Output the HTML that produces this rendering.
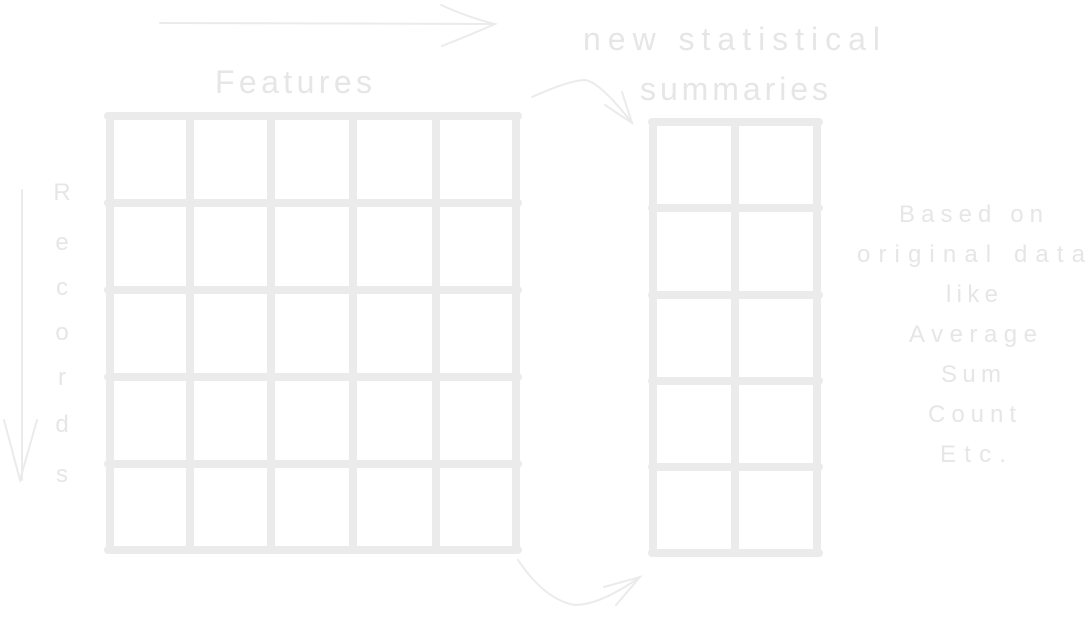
<!DOCTYPE html>
<html><head><style>
html,body{margin:0;padding:0;background:#fff;}
svg{display:block}
text{font-family:"Liberation Sans",sans-serif;fill:#e6e6e6;}
</style></head><body>
<svg width="1092" height="630" viewBox="0 0 1092 630">
<g stroke="#ebebeb" stroke-width="8" stroke-linecap="round" fill="none">
<line x1="108" y1="116" x2="518" y2="116"/>
<line x1="108" y1="203" x2="518" y2="203"/>
<line x1="108" y1="290" x2="518" y2="290"/>
<line x1="108" y1="377" x2="518" y2="377"/>
<line x1="108" y1="464" x2="518" y2="464"/>
<line x1="108" y1="550" x2="518" y2="550"/>
<line x1="110" y1="116" x2="110" y2="550"/>
<line x1="190" y1="116" x2="190" y2="550"/>
<line x1="271" y1="116" x2="271" y2="550"/>
<line x1="353" y1="116" x2="353" y2="550"/>
<line x1="436" y1="116" x2="436" y2="550"/>
<line x1="516" y1="116" x2="516" y2="550"/>
<line x1="652" y1="122" x2="819" y2="122"/>
<line x1="652" y1="208" x2="819" y2="208"/>
<line x1="652" y1="295" x2="819" y2="295"/>
<line x1="652" y1="381" x2="819" y2="381"/>
<line x1="652" y1="467" x2="819" y2="467"/>
<line x1="652" y1="553" x2="819" y2="553"/>
<line x1="653" y1="122" x2="653" y2="553"/>
<line x1="735" y1="122" x2="735" y2="553"/>
<line x1="817" y1="122" x2="817" y2="553"/>
</g>
<g stroke="#ebebeb" stroke-width="2" fill="none" stroke-linecap="round">
<line x1="160" y1="23" x2="495" y2="24"/>
<path d="M441 5 Q470 18 495 24 Q470 35 442 46"/>
<line x1="22" y1="190" x2="22" y2="480"/>
<path d="M4 420 L20 480 L37 420"/>
<path d="M532 97 Q570 80 585 80 Q600 82 632 123"/>
<path d="M605 105 L632 123 L622 92"/>
<path d="M518 560 Q545 600 575 605 Q600 605 640 577"/>
<path d="M604 587 L640 577 L616 605"/>
</g>
<text x="215" y="93" font-size="32" textLength="157" lengthAdjust="spacing">Features</text>
<text x="583" y="50" font-size="32" textLength="297" lengthAdjust="spacing">new statistical</text>
<text x="640" y="100" font-size="32" textLength="188" lengthAdjust="spacing">summaries</text>
<g font-size="24" text-anchor="middle">
<text x="62" y="200">R</text>
<text x="62" y="250">e</text>
<text x="62" y="295">c</text>
<text x="62" y="340">o</text>
<text x="62" y="385">r</text>
<text x="62" y="432">d</text>
<text x="62" y="482">s</text>
</g>
<g font-size="24">
<text x="899" y="222" textLength="144" lengthAdjust="spacing">Based on</text>
<text x="857" y="262" textLength="228" lengthAdjust="spacing">original data</text>
<text x="946" y="302" textLength="52" lengthAdjust="spacing">like</text>
<text x="909" y="342" textLength="128" lengthAdjust="spacing">Average</text>
<text x="941" y="382" textLength="60" lengthAdjust="spacing">Sum</text>
<text x="928" y="422" textLength="88" lengthAdjust="spacing">Count</text>
<text x="940" y="462" textLength="66" lengthAdjust="spacing">Etc.</text>
</g>
</svg>
</body></html>
